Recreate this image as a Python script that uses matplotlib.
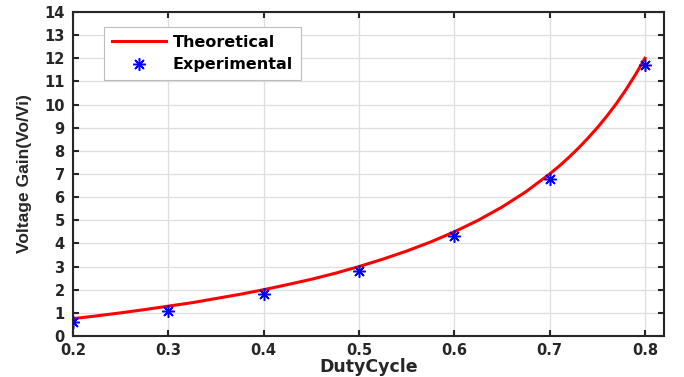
import matplotlib
matplotlib.use("Agg")
import matplotlib.pyplot as plt

duty_theory = [0.200, 0.225, 0.250, 0.275, 0.300, 0.325, 0.350, 0.375, 0.400, 0.425,
               0.450, 0.475, 0.500, 0.525, 0.550, 0.575, 0.600, 0.625, 0.650, 0.675,
               0.700, 0.710, 0.720, 0.730, 0.740, 0.750, 0.760, 0.770, 0.780, 0.790, 0.800]
gain_theory = [0.75, 0.87, 1.00, 1.14, 1.29, 1.44, 1.62, 1.80, 2.00, 2.22,
               2.45, 2.71, 3.00, 3.32, 3.67, 4.06, 4.50, 5.00, 5.57, 6.23,
               7.00, 7.34, 7.71, 8.11, 8.54, 9.00, 9.50, 10.04, 10.64, 11.29, 12.00]

duty_exp = [0.2, 0.3, 0.4, 0.5, 0.6, 0.7, 0.8]
gain_exp = [0.6, 1.1, 1.8, 2.8, 4.3, 6.8, 11.7]

x_ticks = [0.2, 0.3, 0.4, 0.5, 0.6, 0.7, 0.8]
x_labels = ["0.2", "0.3", "0.4", "0.5", "0.6", "0.7", "0.8"]
y_ticks = list(range(0, 15))

plt.rcParams['font.family'] = ['DejaVu Sans']

fig = plt.figure(figsize=(6.84, 3.77), dpi=100)
ax = fig.add_axes([73/684, 1-336/377, (664-73)/684, (336-12)/377])

ax.plot(duty_theory, gain_theory, color='#ff0000', lw=2.2, label='Theoretical', zorder=3)
ax.plot(duty_exp, gain_exp, linestyle='none', marker=(8, 2, 0), markersize=9,
        markeredgewidth=1.1, color='#0000ff', label='Experimental', zorder=4)

ax.set_xlim(0.2, 0.82)
ax.set_ylim(0, 14)
ax.set_xticks(x_ticks)
ax.set_xticklabels(x_labels)
ax.set_yticks(y_ticks)
ax.grid(True, color='#dedede', lw=0.9)
ax.set_axisbelow(True)
ax.tick_params(direction='in', top=True, right=True, length=4, width=1.5,
               labelsize=10.5, colors='#262626')
ax.tick_params(axis='x', pad=5)
ax.tick_params(axis='y', pad=6)
for lab in ax.get_xticklabels() + ax.get_yticklabels():
    lab.set_fontweight('bold')
for s in ax.spines.values():
    s.set_linewidth(1.5)
    s.set_color('#262626')

ax.set_xlabel('DutyCycle', fontsize=12.5, fontweight='bold', color='#262626', labelpad=0)
ax.set_ylabel('Voltage Gain(Vo/Vi)', family=['Liberation Sans', 'DejaVu Sans'],
              fontsize=12.5, fontweight='bold', color='#262626', labelpad=9)

leg = ax.legend(loc='upper left', bbox_to_anchor=((104-73)/591, (336-27)/324),
                borderaxespad=0, prop={'weight': 'bold', 'size': 11.5},
                frameon=True, fancybox=False, edgecolor='#bdbdbd', framealpha=1,
                handlelength=3.4, handletextpad=0.4, borderpad=0.5, labelspacing=0.45)
leg.get_frame().set_linewidth(0.8)

fig.savefig('out.png', dpi=100)
